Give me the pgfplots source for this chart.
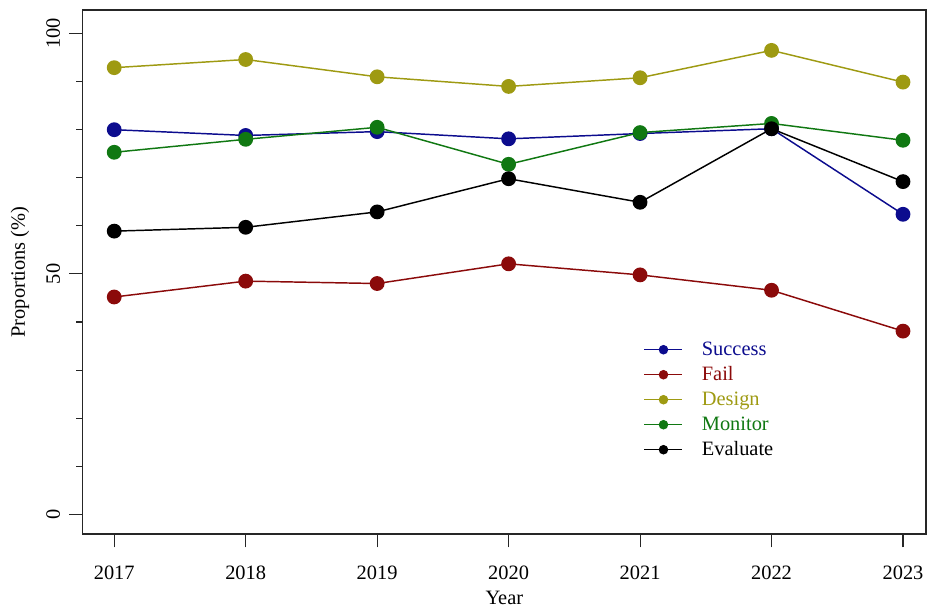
\documentclass[border=0pt]{standalone}
\usepackage{fontspec}
\setmainfont{Liberation Serif}
\usepackage{pgfplots}
\pgfplotsset{compat=1.18}
\definecolor{cS}{HTML}{0C0C8E}
\definecolor{cF}{HTML}{8B0A0A}
\definecolor{cD}{HTML}{9E9A12}
\definecolor{cM}{HTML}{107812}
\definecolor{cE}{HTML}{000000}
\begin{document}
\begin{tikzpicture}
\begin{axis}[
  name=ax,
  scale only axis,
  width=632.5pt, height=393pt,
  xmin=2016.76, xmax=2023.175,
  ymin=-4.1, ymax=104.9,
  clip=false,
  font=\fontsize{15.3}{18}\selectfont,
  axis line style={line width=0.8pt, color=black!85},
  every tick/.style={line width=0.8pt, color=black!85},
  tick align=outside,
  major tick length=10pt,
  minor tick length=5pt,
  xtick pos=left, ytick pos=left,
  xtick={2017,2018,2019,2020,2021,2022,2023},
  xticklabels={2017,2018,2019,2020,2021,2022,2023},
  ytick={0,50,100},
  yticklabels={0,50,100},
  minor ytick={10,20,30,40,60,70,80,90},
  xticklabel style={anchor=north, inner sep=0pt},
  xticklabel shift=14pt,
  yticklabel style={rotate=90, anchor=south, inner sep=0pt},
  yticklabel shift=6.7pt,
  legend cell align=left,
  legend style={draw=none, fill=none, inner sep=0pt, column sep=14pt, row sep=4.75pt,
    at={(0.665,0.370)}, anchor=north west,
    nodes={inner sep=0pt, text height=11pt, text depth=3pt}},
  legend image code/.code={
    \draw[#1, mark=none, line width=1.1pt] (0pt,0pt) -- (28.5pt,0pt);
    \draw[#1, only marks, mark size=3pt] plot coordinates {(14.25pt,0pt)};
  },
  every axis plot/.append style={line width=1.1pt, mark=*, mark size=5pt},
]
\addplot[color=cS, mark options={fill=cS}] coordinates {
 (2017,80.0) (2018,78.8) (2019,79.6) (2020,78.1) (2021,79.2) (2022,80.2) (2023,62.4)};
\addlegendentry{\textcolor{cS}{Success}}
\addplot[color=cF, mark options={fill=cF}] coordinates {
 (2017,45.2) (2018,48.5) (2019,48.0) (2020,52.1) (2021,49.8) (2022,46.6) (2023,38.1)};
\addlegendentry{\textcolor{cF}{Fail}}
\addplot[color=cD, mark options={fill=cD}] coordinates {
 (2017,92.9) (2018,94.6) (2019,91.0) (2020,89.0) (2021,90.8) (2022,96.5) (2023,89.9)};
\addlegendentry{\textcolor{cD}{Design}}
\addplot[color=cM, mark options={fill=cM}] coordinates {
 (2017,75.3) (2018,78.0) (2019,80.5) (2020,72.8) (2021,79.4) (2022,81.3) (2023,77.8)};
\addlegendentry{\textcolor{cM}{Monitor}}
\addplot[color=cE, mark options={fill=cE}] coordinates {
 (2017,58.9) (2018,59.7) (2019,62.9) (2020,69.8) (2021,64.9) (2022,80.2) (2023,69.2)};
\addlegendentry{\textcolor{cE}{Evaluate}}
\node[rotate=90, anchor=center] at ([xshift=-47pt]rel axis cs:0,0.5) {Proportions (\%)};
\node[anchor=center] at ([yshift=-48pt]rel axis cs:0.5,0) {Year};
\end{axis}
\pgfresetboundingbox
\path[use as bounding box] ([shift={(-62pt,-57pt)}]ax.south west) rectangle ([shift={(0.75pt,7.5pt)}]ax.north east);
\end{tikzpicture}
\end{document}
